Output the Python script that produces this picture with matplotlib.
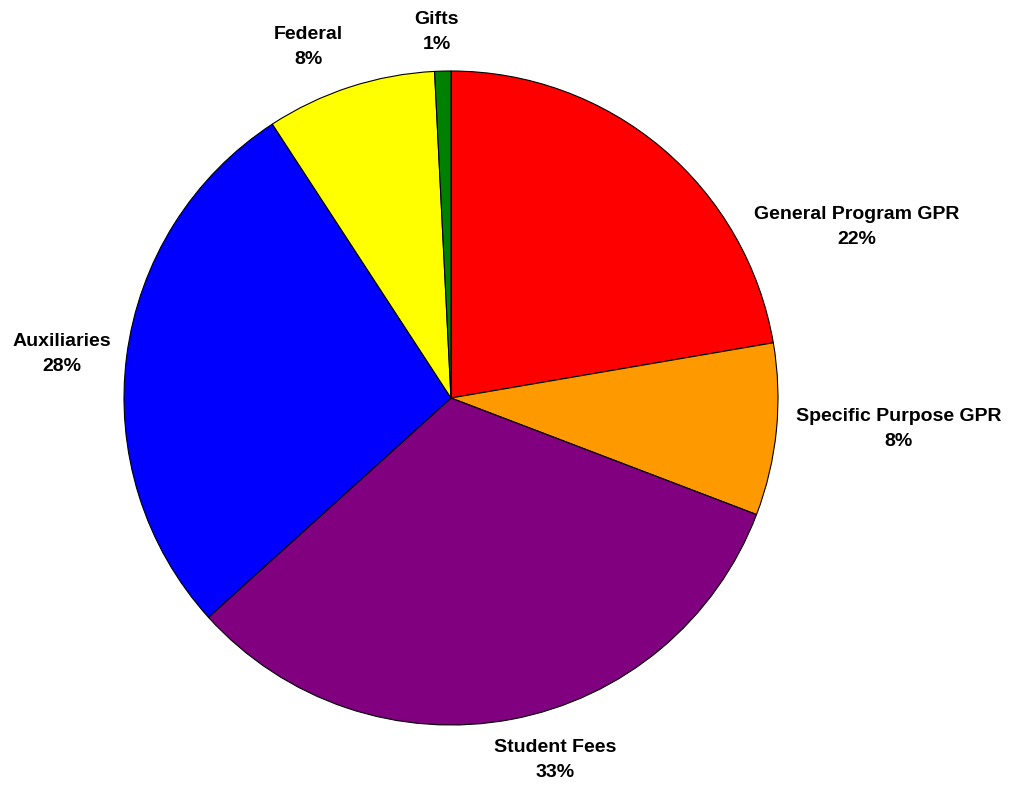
import matplotlib.pyplot as plt

# slice data (clockwise from 12 o'clock)
categories = ['General Program GPR', 'Specific Purpose GPR', 'Student Fees',
              'Auxiliaries', 'Federal', 'Gifts']
shares = [22.3, 8.5, 32.5, 27.5, 8.4, 0.8]
pct_labels = ['22%', '8%', '33%', '28%', '8%', '1%']
colors = ['#FF0000', '#FF9900', '#800080', '#0000FF', '#FFFF00', '#008000']

# label centres, in units of the pie radius
label_xy = [(1.242, 0.523), (1.370, -0.095), (0.318, -1.107),
            (-1.190, 0.135), (-0.437, 1.073), (-0.043, 1.119)]

W, H, dpi = 1016, 787, 100
cx, cy, r = 451, 398, 327  # pie centre and radius in pixels

fig = plt.figure(figsize=(W / dpi, H / dpi), dpi=dpi)
ax = fig.add_axes([0, 0, 1, 1])

ax.pie(shares, colors=colors, startangle=90, counterclock=False, radius=1,
       wedgeprops=dict(edgecolor='black', linewidth=0.8))

for cat, pct, (x, y) in zip(categories, pct_labels, label_xy):
    ax.text(x, y, cat + '\n' + pct, ha='center', va='center',
            fontsize=14, fontweight='bold', family='Liberation Sans',
            linespacing=1.65)

ax.set_xlim(-cx / r, (W - cx) / r)
ax.set_ylim(-(H - cy) / r, cy / r)
ax.set_aspect('auto')
ax.axis('off')

fig.savefig('out.png', dpi=dpi)
